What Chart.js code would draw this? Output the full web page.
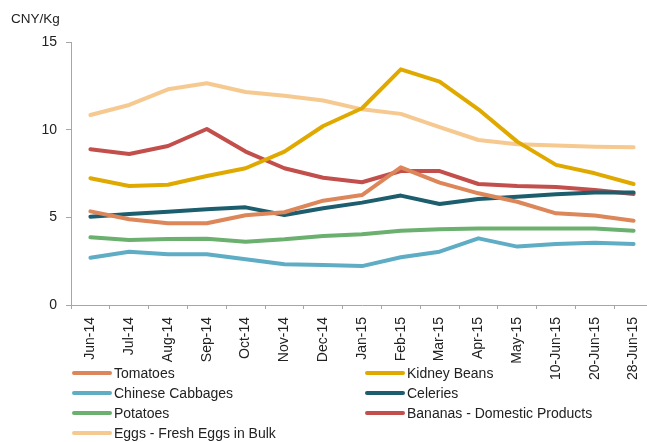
<!DOCTYPE html>
<html>
<head>
<meta charset="utf-8">
<script src="https://cdn.jsdelivr.net/npm/chart.js@4/dist/chart.umd.min.js"></script>
<style>
  html, body { margin: 0; padding: 0; background: #fff; overflow: hidden; width: 647px; height: 442px; }
  #wrap { position: absolute; left: 0; top: 0; width: 660px; height: 442px; }
  #title { position: absolute; left: 11px; top: 11px; font: 13.5px "Liberation Sans", Arial, sans-serif; color: #222; }
  .lg { position: absolute; height: 20px; display: flex; align-items: center; font: 14px "Liberation Sans", Arial, sans-serif; color: #222; white-space: nowrap; }
  .sw { width: 40px; height: 4px; border-radius: 2px; margin-right: 2px; }
</style>
</head>
<body>
<div id="wrap"><canvas id="c" width="660" height="442"></canvas></div>
<div id="title">CNY/Kg</div>
<div id="legend"></div>
<script>
const categories = ["Jun-14","Jul-14","Aug-14","Sep-14","Oct-14","Nov-14","Dec-14","Jan-15","Feb-15","Mar-15","Apr-15","May-15","10-Jun-15","20-Jun-15","28-Jun-15"];
const yTicks = [0, 5, 10, 15];
const seriesNames = ["Tomatoes","Kidney Beans","Chinese Cabbages","Celeries","Potatoes","Bananas - Domestic Products","Eggs - Fresh Eggs in Bulk"];
const tomatoes      = [5.34, 4.89, 4.66, 4.66, 5.12, 5.29, 5.95, 6.27, 7.85, 6.98, 6.37, 5.89, 5.23, 5.10, 4.81];
const kidneyBeans   = [7.23, 6.79, 6.86, 7.36, 7.80, 8.75, 10.21, 11.22, 13.44, 12.74, 11.16, 9.32, 7.99, 7.51, 6.90];
const cabbages      = [2.70, 3.04, 2.89, 2.89, 2.61, 2.32, 2.28, 2.22, 2.72, 3.04, 3.80, 3.33, 3.48, 3.55, 3.48];
const celeries      = [5.04, 5.19, 5.32, 5.46, 5.57, 5.13, 5.52, 5.84, 6.24, 5.76, 6.05, 6.18, 6.31, 6.41, 6.41];
const potatoes      = [3.86, 3.71, 3.76, 3.78, 3.61, 3.75, 3.94, 4.03, 4.24, 4.32, 4.37, 4.37, 4.37, 4.37, 4.24];
const bananas       = [8.88, 8.61, 9.07, 10.04, 8.75, 7.80, 7.26, 7.00, 7.64, 7.64, 6.90, 6.79, 6.73, 6.56, 6.33];
const eggs          = [10.84, 11.41, 12.30, 12.65, 12.15, 11.94, 11.66, 11.16, 10.90, 10.14, 9.41, 9.17, 9.09, 9.03, 9.00];
const seriesValues = [tomatoes, kidneyBeans, cabbages, celeries, potatoes, bananas, eggs];
const colors = ["#DC8659", "#E0A900", "#5FADC5", "#1D5E6E", "#6BB06E", "#C24F4B", "#F6C991"];

const datasets = seriesNames.map((n, i) => ({
  label: n,
  data: seriesValues[i],
  borderColor: colors[i],
  backgroundColor: colors[i],
  borderWidth: 4,
  pointRadius: 0,
  tension: 0,
  fill: false,
  borderJoinStyle: 'round',
  borderCapStyle: 'round'
}));

// HTML legend (two columns)
const legendPos = [
  [72, 363], [365, 363],
  [72, 383], [365, 383],
  [72, 403], [365, 403],
  [72, 423]
];
const lg = document.getElementById('legend');
seriesNames.forEach((n, i) => {
  const d = document.createElement('div');
  d.className = 'lg';
  d.style.left = legendPos[i][0] + 'px';
  d.style.top = legendPos[i][1] + 'px';
  const s = document.createElement('span');
  s.className = 'sw';
  s.style.background = colors[i];
  d.appendChild(s);
  d.appendChild(document.createTextNode(n));
  lg.appendChild(d);
});

const axisColor = '#A6A6A6';
new Chart(document.getElementById('c'), {
  type: 'line',
  data: { labels: categories, datasets },
  options: {
    responsive: false,
    animation: false,
    layout: { padding: { top: 42, right: 7, left: 0, bottom: 0 } },
    plugins: { legend: { display: false }, tooltip: { enabled: false } },
    scales: {
      x: {
        offset: true,
        grid: { drawOnChartArea: false, offset: true, tickLength: 4, color: axisColor },
        border: { color: axisColor },
        ticks: {
          autoSkip: false, minRotation: 90, maxRotation: 90, padding: 8,
          color: '#222', font: { family: '"Liberation Sans", Arial, sans-serif', size: 14 }
        },
        afterFit: s => { s.height = 137; }
      },
      y: {
        min: 0, max: 15,
        afterBuildTicks: s => { s.ticks = yTicks.map(v => ({ value: v })); },
        grid: { drawOnChartArea: false, tickLength: 5, color: axisColor },
        border: { color: axisColor },
        ticks: {
          padding: 9, color: '#222',
          font: { family: '"Liberation Sans", Arial, sans-serif', size: 14 }
        },
        afterFit: s => { s.width = 71; }
      }
    }
  }
});
</script>
</body>
</html>
